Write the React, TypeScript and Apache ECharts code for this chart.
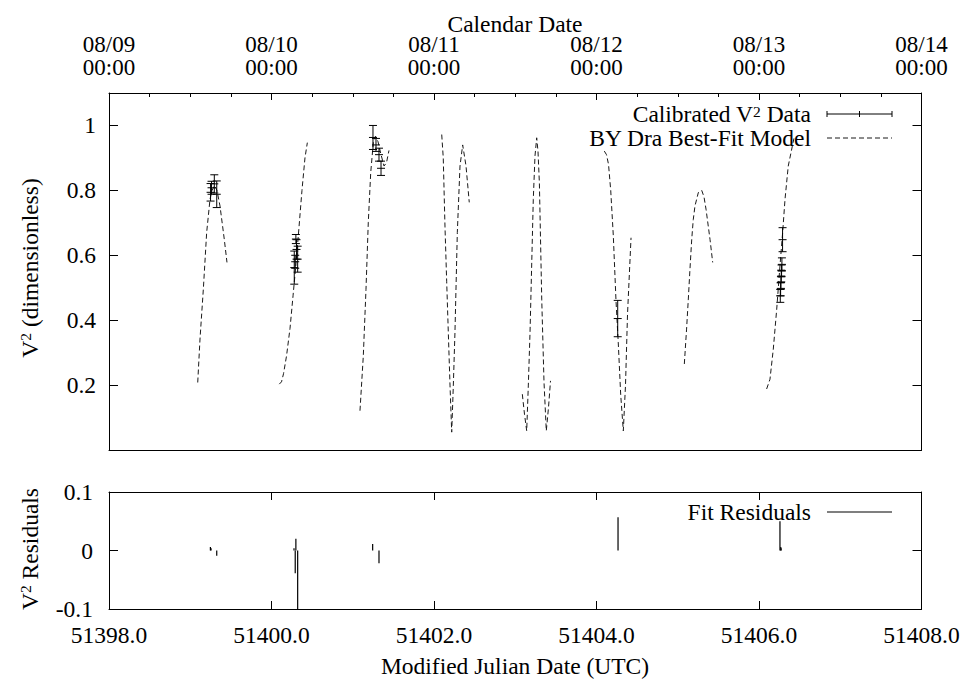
import React, { useEffect, useRef } from 'react';
import * as echarts from 'echarts';

const FONT = "'Liberation Serif', 'Times New Roman', serif";
const FS = 23.5;

// BY Dra best-fit model, one track per observing night (MJD, V^2)
const night1Mjd = [51399.092, 51399.12, 51399.161, 51399.202, 51399.243, 51399.268, 51399.298, 51399.329, 51399.366, 51399.419, 51399.452];
const night1V2 = [0.208, 0.342, 0.495, 0.67, 0.772, 0.8, 0.815, 0.8, 0.752, 0.649, 0.578];

const night2Mjd = [51400.096, 51400.123, 51400.148, 51400.185, 51400.228, 51400.265, 51400.302, 51400.338, 51400.375, 51400.412, 51400.441];
const night2V2 = [0.203, 0.21, 0.235, 0.29, 0.375, 0.475, 0.575, 0.685, 0.8, 0.9, 0.947];

const night3Mjd = [51401.089, 51401.13, 51401.163, 51401.191, 51401.221, 51401.253, 51401.28, 51401.311, 51401.348, 51401.385, 51401.415, 51401.446];
const night3V2 = [0.121, 0.29, 0.495, 0.7, 0.854, 0.947, 0.967, 0.95, 0.91, 0.875, 0.885, 0.923];

const night4Mjd = [51402.095, 51402.114, 51402.135, 51402.156, 51402.176, 51402.197, 51402.218, 51402.238, 51402.258, 51402.287, 51402.32, 51402.353, 51402.394, 51402.434];
const night4V2 = [0.972, 0.9, 0.69, 0.52, 0.363, 0.2, 0.055, 0.2, 0.363, 0.67, 0.875, 0.94, 0.875, 0.763];

const night5Mjd = [51403.087, 51403.114, 51403.141, 51403.161, 51403.182, 51403.222, 51403.243, 51403.264, 51403.28, 51403.297, 51403.326, 51403.354, 51403.382, 51403.409, 51403.434];
const night5V2 = [0.172, 0.11, 0.059, 0.2, 0.363, 0.772, 0.906, 0.962, 0.92, 0.823, 0.465, 0.209, 0.059, 0.13, 0.213];

const night6Mjd = [51404.096, 51404.123, 51404.148, 51404.175, 51404.207, 51404.24, 51404.268, 51404.298, 51404.33, 51404.357, 51404.382, 51404.425];
const night6V2 = [0.921, 0.91, 0.88, 0.8, 0.66, 0.46, 0.33, 0.17, 0.059, 0.2, 0.42, 0.654];

const night7Mjd = [51405.081, 51405.108, 51405.13, 51405.151, 51405.172, 51405.191, 51405.212, 51405.253, 51405.295, 51405.323, 51405.348, 51405.397, 51405.43];
const night7V2 = [0.265, 0.37, 0.465, 0.56, 0.649, 0.71, 0.752, 0.793, 0.8, 0.78, 0.742, 0.649, 0.578];

const night8Mjd = [51406.094, 51406.135, 51406.176, 51406.218, 51406.258, 51406.291, 51406.32, 51406.36, 51406.41, 51406.43];
const night8V2 = [0.188, 0.218, 0.311, 0.434, 0.567, 0.67, 0.772, 0.875, 0.936, 0.96];

// Calibrated V^2 measurements and their 1-sigma errors
const dataMjd = [
  51399.25, 51399.262, 51399.296, 51399.326,
  51400.28, 51400.292, 51400.3, 51400.308, 51400.322,
  51401.249, 51401.286, 51401.323, 51401.348,
  51404.261,
  51406.262, 51406.266, 51406.27, 51406.274, 51406.278, 51406.282, 51406.29,
];
const dataV2 = [
  0.794, 0.808, 0.82, 0.788,
  0.562, 0.58, 0.65, 0.618, 0.588,
  0.963, 0.94, 0.91, 0.868,
  0.405,
  0.475, 0.495, 0.516, 0.536, 0.552, 0.572, 0.648,
];
const dataErr = [
  0.027, 0.02, 0.028, 0.041,
  0.051, 0.02, 0.014, 0.03, 0.04,
  0.037, 0.02, 0.02, 0.022,
  0.056,
  0.02, 0.02, 0.018, 0.018, 0.018, 0.02, 0.037,
];

// Fit residuals (data - model)
const residMjd = [51399.248, 51399.256, 51399.326, 51400.277, 51400.292, 51400.3, 51400.322, 51401.245, 51401.323, 51404.265, 51406.258, 51406.268, 51406.272];
const residVal = [0.006, 0.004, -0.009, 0.004, -0.039, 0.02, -0.1, 0.011, -0.022, 0.057, 0.05, 0.006, 0.004];

// Axis ticks and labels
const mjdTicks = [51398, 51400, 51402, 51404, 51406, 51408];
const calendarLabels = ['08/09', '08/10', '08/11', '08/12', '08/13', '08/14'];
const clockLabels = ['00:00', '00:00', '00:00', '00:00', '00:00', '00:00'];
const v2Ticks = [0.2, 0.4, 0.6, 0.8, 1];
const residTicks = [-0.1, 0, 0.1];

const nights: [number[], number[]][] = [
  [night1Mjd, night1V2],
  [night2Mjd, night2V2],
  [night3Mjd, night3V2],
  [night4Mjd, night4V2],
  [night5Mjd, night5V2],
  [night6Mjd, night6V2],
  [night7Mjd, night7V2],
  [night8Mjd, night8V2],
];

const GRID_LEFT = 109;
const GRID_RIGHT = 964 - 921.5;

export default function App() {
  const ref = useRef<HTMLDivElement>(null);

  useEffect(() => {
    document.body.style.margin = '0';
    if (!ref.current) return;
    const chart = echarts.init(ref.current, null, { renderer: 'svg' });

    const modelData: (number | null)[][] = [];
    nights.forEach(([m, v]) => {
      m.forEach((x, i) => modelData.push([x, v[i]]));
      modelData.push([m[m.length - 1] + 0.01, null]);
    });
    const errData = dataMjd.map((x, i) => [x, dataV2[i], dataErr[i]]);
    const residData = residMjd.map((x, i) => [x, residVal[i]]);

    const lbl = { fontFamily: FONT, fontSize: FS, color: '#000' };
    const axLine = { show: true, onZero: false, lineStyle: { color: '#000', width: 1 } };
    const inTick = (len: number) => ({ show: true, inside: true, length: len, lineStyle: { color: '#000', width: 1 } });
    const tickIndex = (arr: number[], v: number) => arr.findIndex((t) => Math.abs(t - v) < 1e-6);
    const hasTick = (arr: number[], v: number) => tickIndex(arr, v) >= 0;

    // rich text: body text plus a raised, smaller "2"
    const richT = {
      b: { fontFamily: FONT, fontSize: FS, fill: '#000', lineHeight: 26 },
      s: { fontFamily: FONT, fontSize: 15.5, fill: '#000', lineHeight: 16, verticalAlign: 'top' },
    };
    const richKey = {
      b: { fontFamily: FONT, fontSize: FS, fill: '#000', lineHeight: 22 },
      s: { fontFamily: FONT, fontSize: 15.5, fill: '#000', lineHeight: 12, verticalAlign: 'top' },
    };
    const stroke = { stroke: '#000', lineWidth: 1 };

    const topAxis = (margin: number, labels: string[], withTicks: boolean) => ({
      type: 'value', gridIndex: 0, position: 'top', min: 51398, max: 51408, interval: 2,
      axisLine: { ...axLine, show: withTicks },
      axisTick: withTicks ? inTick(7) : { show: false },
      minorTick: withTicks
        ? { show: true, splitNumber: 4, length: 4, lineStyle: { color: '#000', width: 1 } }
        : { show: false },
      axisLabel: {
        ...lbl, fontSize: 23, margin,
        formatter: (v: number) => {
          const i = tickIndex(mjdTicks, v);
          return i >= 0 ? labels[i] : '';
        },
      },
      splitLine: { show: false },
    });

    chart.setOption({
      animation: false,
      backgroundColor: '#fff',
      grid: [
        { left: GRID_LEFT, right: GRID_RIGHT, top: 93, height: 357 },
        { left: GRID_LEFT, right: GRID_RIGHT, top: 492, height: 117 },
      ],
      xAxis: [
        {
          type: 'value', gridIndex: 0, position: 'bottom', min: 51398, max: 51408, interval: 2,
          axisLine: axLine, axisTick: { show: false }, axisLabel: { show: false }, splitLine: { show: false },
        },
        // calendar date (upper line) and clock time (lower line) along the top edge
        topAxis(14, clockLabels, true),
        topAxis(37, calendarLabels, false),
        {
          type: 'value', gridIndex: 1, position: 'bottom', min: 51398, max: 51408, interval: 2,
          axisLine: axLine, axisTick: inTick(8),
          axisLabel: { ...lbl, margin: 14, lineHeight: 24, formatter: (v: number) => (hasTick(mjdTicks, v) ? v.toFixed(1) : '') },
          splitLine: { show: false },
        },
        {
          type: 'value', gridIndex: 1, position: 'top', min: 51398, max: 51408, interval: 2,
          axisLine: axLine, axisTick: inTick(8), axisLabel: { show: false }, splitLine: { show: false },
        },
      ],
      yAxis: [
        {
          type: 'value', gridIndex: 0, position: 'left', min: 0, max: 1.1, interval: 0.2,
          axisLine: axLine, axisTick: inTick(9),
          axisLabel: { ...lbl, margin: 13, formatter: (v: number) => (hasTick(v2Ticks, v) ? (Math.abs(v - 1) < 1e-6 ? '1' : v.toFixed(1)) : '') },
          splitLine: { show: false },
        },
        {
          type: 'value', gridIndex: 0, position: 'right', min: 0, max: 1.1, interval: 0.2,
          axisLine: axLine, axisTick: inTick(9), axisLabel: { show: false }, splitLine: { show: false },
        },
        {
          type: 'value', gridIndex: 1, position: 'left', min: -0.1, max: 0.1, interval: 0.1,
          axisLine: axLine, axisTick: inTick(9),
          axisLabel: { ...lbl, margin: 16, formatter: (v: number) => (hasTick(residTicks, v) ? (Math.abs(v) < 1e-9 ? '0' : v.toFixed(1)) : '') },
          splitLine: { show: false },
        },
        {
          type: 'value', gridIndex: 1, position: 'right', min: -0.1, max: 0.1, interval: 0.1,
          axisLine: axLine, axisTick: inTick(9), axisLabel: { show: false }, splitLine: { show: false },
        },
      ],
      series: [
        {
          name: 'BY Dra Best-Fit Model',
          type: 'line', xAxisIndex: 0, yAxisIndex: 0,
          data: modelData, showSymbol: false, connectNulls: false,
          lineStyle: { color: '#1a1a1a', width: 1, type: [5, 3] },
          z: 2,
        },
        {
          name: 'Calibrated V2 Data',
          type: 'custom', xAxisIndex: 0, yAxisIndex: 0,
          data: errData, encode: { x: 0, y: 1 },
          z: 3,
          renderItem: (params: any, api: any) => {
            const x = api.value(0);
            const v = api.value(1);
            const e = api.value(2);
            const top = api.coord([x, v + e]);
            const bot = api.coord([x, v - e]);
            const mid = api.coord([x, v]);
            const hw = 4;
            return {
              type: 'group',
              children: [
                { type: 'line', shape: { x1: top[0], y1: top[1], x2: bot[0], y2: bot[1] }, style: stroke },
                { type: 'line', shape: { x1: top[0] - hw, y1: top[1], x2: top[0] + hw, y2: top[1] }, style: stroke },
                { type: 'line', shape: { x1: bot[0] - hw, y1: bot[1], x2: bot[0] + hw, y2: bot[1] }, style: stroke },
                { type: 'line', shape: { x1: mid[0] - hw, y1: mid[1], x2: mid[0] + hw, y2: mid[1] }, style: stroke },
              ],
            };
          },
        },
        {
          name: 'Fit Residuals',
          type: 'custom', xAxisIndex: 3, yAxisIndex: 2,
          data: residData, encode: { x: 0, y: 1 },
          renderItem: (params: any, api: any) => {
            const x = api.value(0);
            const r = api.value(1);
            const p0 = api.coord([x, 0]);
            const p1 = api.coord([x, r]);
            return {
              type: 'line',
              shape: { x1: p0[0], y1: p0[1], x2: p1[0], y2: p1[1] },
              style: { stroke: '#000', lineWidth: 1.2 },
            };
          },
        },
      ],
      graphic: [
        {
          type: 'text', x: 515, y: 24,
          style: { text: 'Calendar Date', fontFamily: FONT, fontSize: FS, fill: '#000', align: 'center', verticalAlign: 'middle' },
        },
        {
          type: 'text', x: 515, y: 666,
          style: { text: 'Modified Julian Date (UTC)', fontFamily: FONT, fontSize: FS, fill: '#000', align: 'center', verticalAlign: 'middle' },
        },
        {
          type: 'text', x: 30, y: 268, rotation: Math.PI / 2,
          style: { text: '{b|V}{s|2}{b| (dimensionless)}', rich: richT, align: 'center', verticalAlign: 'middle' },
        },
        {
          type: 'text', x: 30, y: 549, rotation: Math.PI / 2,
          style: { text: '{b|V}{s|2}{b| Residuals}', rich: richT, align: 'center', verticalAlign: 'middle' },
        },
        // key: measured data
        {
          type: 'text', x: 811, y: 114,
          style: { text: '{b|Calibrated V}{s|2}{b| Data}', rich: richKey, align: 'right', verticalAlign: 'middle' },
        },
        { type: 'line', shape: { x1: 827, y1: 114, x2: 892, y2: 114 }, style: stroke },
        { type: 'line', shape: { x1: 827, y1: 111, x2: 827, y2: 117 }, style: stroke },
        { type: 'line', shape: { x1: 892, y1: 111, x2: 892, y2: 117 }, style: stroke },
        { type: 'line', shape: { x1: 859.5, y1: 111, x2: 859.5, y2: 117 }, style: stroke },
        // key: model
        {
          type: 'text', x: 811, y: 137.5,
          style: { text: '{b|BY Dra Best-Fit Model}', rich: richKey, align: 'right', verticalAlign: 'middle' },
        },
        { type: 'line', shape: { x1: 827, y1: 138, x2: 892, y2: 138 }, style: { stroke: '#1a1a1a', lineWidth: 1, lineDash: [5, 3] } },
        // key: residuals
        {
          type: 'text', x: 811, y: 512,
          style: { text: 'Fit Residuals', fontFamily: FONT, fontSize: FS, fill: '#000', align: 'right', verticalAlign: 'middle' },
        },
        { type: 'line', shape: { x1: 827, y1: 512, x2: 892, y2: 512 }, style: { stroke: '#000', lineWidth: 1.2 } },
      ],
    });

    return () => chart.dispose();
  }, []);

  return <div ref={ref} style={{ width: 964, height: 683 }} />;
}
